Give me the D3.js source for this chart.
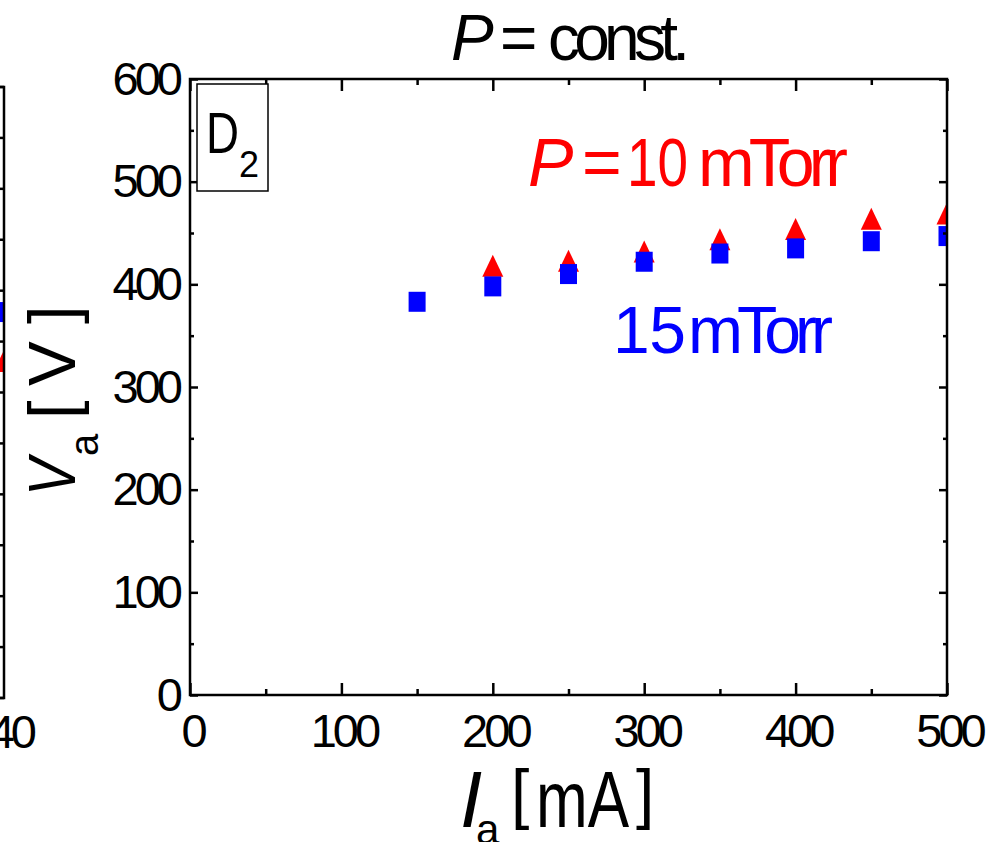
<!DOCTYPE html>
<html>
<head>
<meta charset="utf-8">
<script src="https://cdn.jsdelivr.net/npm/d3@7"></script>
<style>
body{margin:0;background:#fff}
svg text{font-family:"Liberation Sans",Arial,sans-serif}
.tick text{font-size:47px;letter-spacing:-4px;fill:#000}
.tick line{stroke:#000;stroke-width:2.5}
</style>
</head>
<body>
<div id="app"></div>
<script>
// anode current [mA]
const current = [150,200,250,300,350,400,450,500]
// anode voltage [V], P = 10 mTorr (red) and 15 mTorr (blue)
const v10 = [null,418,423,432,444,454,464,469]
const v15 = [383,398,410,422,430,435,442,447]
const xTicks = [0,100,200,300,400,500]
const xMinor = [50,150,250,350,450]
const yTicks = [0,100,200,300,400,500,600]
const yMinor = [50,150,250,350,450,550]
// neighbouring panel, only its right edge is in the picture
const leftCur = [40]
const left10 = [331]
const left15 = [379]
const leftTicks = [0,50,100,150,200,250,300,350,400,450,500,550,600]

const W = 1003, H = 842
const svg = d3.select('#app').append('svg').attr('width',W).attr('height',H)

const x = d3.scaleLinear().domain([0,500]).range([190,947])
const y = d3.scaleLinear().domain([0,600]).range([695,79])

svg.append('clipPath').attr('id','plot')
  .append('rect').attr('x',190).attr('y',79).attr('width',757).attr('height',616)

const tri = 'M0,-11L10.5,11L-10.5,11Z'

// ---- left neighbour panel (cut off) ----
const xl = d3.scaleLinear().domain([0,40]).range([-700,4])
const yl = d3.scaleLinear().domain([0,600]).range([698,87])
svg.append('clipPath').attr('id','leftplot')
  .append('rect').attr('x',-10).attr('y',87).attr('width',14).attr('height',611)
const gl = svg.append('g')
const glm = gl.append('g').attr('clip-path','url(#leftplot)')
glm.selectAll('path.l10').data(leftCur).enter().append('path')
  .attr('transform',(d,i) => `translate(${xl(d)},${yl(left10[i])})`)
  .attr('d',tri).attr('fill','#ff0000')
glm.selectAll('rect.l15').data(leftCur).enter().append('rect')
  .attr('x',(d) => xl(d)-8.5).attr('y',(d,i) => yl(left15[i])-10)
  .attr('width',17).attr('height',20).attr('fill','#0000ff')
gl.append('path').attr('d',`M0,${yl(600)}H${xl(40)}V${yl(0)}H0`)
  .attr('fill','none').attr('stroke','#000').attr('stroke-width',2.5)
gl.selectAll('line.lt').data(leftTicks).enter().append('line')
  .attr('x1',xl(40)-6).attr('x2',xl(40)).attr('y1',d => yl(d)).attr('y2',d => yl(d))
  .attr('stroke','#000').attr('stroke-width',2.5)
gl.append('text').attr('x',33).attr('y',748).attr('text-anchor','end')
  .attr('font-size',47).attr('letter-spacing','-4px').text('40')

// ---- markers ----
const gm = svg.append('g').attr('clip-path','url(#plot)')
gm.selectAll('path.tri').data(current.filter((d,i) => v10[i] != null)).enter().append('path')
  .attr('transform',d => `translate(${x(d)},${y(v10[current.indexOf(d)])})`)
  .attr('d',tri).attr('fill','#ff0000')
gm.selectAll('rect.sq').data(current).enter().append('rect')
  .attr('x',d => x(d)-8.5).attr('y',(d,i) => y(v15[i])-10)
  .attr('width',17).attr('height',20).attr('fill','#0000ff')

// ---- axes ----
function axis(gen, tx, ty, vals, size, pad, labels){
  const a = gen.tickValues(vals).tickSize(size).tickPadding(pad)
  if(!labels) a.tickFormat('')
  const g = svg.append('g').attr('transform',`translate(${tx},${ty})`).call(a)
  g.select('.domain').remove()
  return g
}
axis(d3.axisBottom(x),0,695,xTicks,-12,19,true).selectAll('text').attr('dx','2px')
axis(d3.axisBottom(x),0,695,xMinor,-6,0,false)
axis(d3.axisTop(x),0,79,xTicks,-12,0,false)
axis(d3.axisTop(x),0,79,xMinor,-6,0,false)
axis(d3.axisLeft(y),190,0,yTicks,-8,11,true)
axis(d3.axisLeft(y),190,0,yMinor,-4,0,false)
axis(d3.axisRight(y),947,0,yTicks,-8,0,false)
axis(d3.axisRight(y),947,0,yMinor,-4,0,false)

svg.append('rect').attr('x',190).attr('y',79).attr('width',757).attr('height',616)
  .attr('fill','none').attr('stroke','#000').attr('stroke-width',2.5)

// ---- texts ----
function txt(g, s, tx, ty, size, opts){
  const t = g.append('text').attr('x',tx).attr('y',ty).attr('font-size',size).text(s)
  if(opts && opts.italic) t.attr('font-style','italic')
  if(opts && opts.len) t.attr('textLength',opts.len).attr('lengthAdjust',opts.squeeze ? 'spacingAndGlyphs' : 'spacing')
  if(opts && opts.fill) t.attr('fill',opts.fill)
  return t
}

// D2 box
svg.append('rect').attr('x',197).attr('y',84).attr('width',71).attr('height',107)
  .attr('fill','#fff').attr('stroke','#000').attr('stroke-width',1.5)
txt(svg,'D',206,153,58,{len:33,squeeze:true})
txt(svg,'2',239,177,36)

// title
txt(svg,'P',451,60,64,{italic:true})
txt(svg,'=',500,60,64)
txt(svg,'const.',548,60,64,{len:142})

// legend labels
txt(svg,'P',528,186,68,{italic:true,fill:'#ff0000'})
txt(svg,'=',582,186,68,{fill:'#ff0000'})
txt(svg,'10',627,186,68,{len:61,squeeze:true,fill:'#ff0000'})
txt(svg,'mTorr',698,186,68,{len:150,fill:'#ff0000'})
txt(svg,'15',613,353,66,{len:73,fill:'#0000ff'})
txt(svg,'mTorr',688,353,66,{len:145,fill:'#0000ff'})

// x label
const gx = svg.append('g')
txt(gx,'I',460,827,80,{italic:true})
txt(gx,'a',476,844,42)
txt(gx,'[',511,816,66)
txt(gx,'mA',536,827,80,{len:93,squeeze:true})
txt(gx,']',636,816,66)

// y label
const gy = svg.append('g').attr('transform','translate(75,497) rotate(-90)')
txt(gy,'V',1,0,67,{italic:true,len:38,squeeze:true})
txt(gy,'a',41,23,40)
txt(gy,'[',78,0,67)
txt(gy,'V',111,0,67)
txt(gy,']',173,0,67)
</script>
</body>
</html>
